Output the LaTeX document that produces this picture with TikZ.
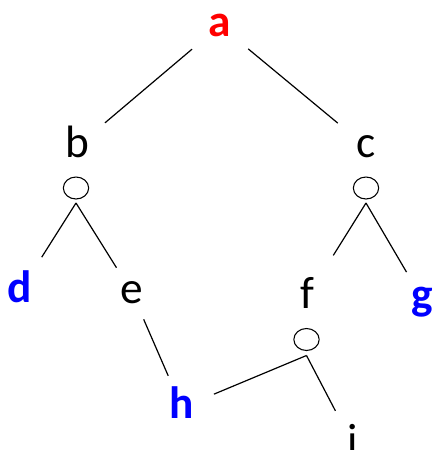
\documentclass[tikz,border=0pt]{standalone}
\usepackage{fontspec}
\setmainfont{Carlito}
\usetikzlibrary{shapes.geometric,positioning}

\begin{document}
\begin{tikzpicture}[x=0.75pt,y=-0.75pt,line width=0.9pt,
	lbl/.style={circle,inner sep=0pt,minimum size=54pt,text height=15.75pt,text depth=0pt,font=\fontsize{34}{40}\selectfont},
	key/.style={lbl,font=\fontsize{34}{40}\selectfont\bfseries},
	knot/.style={ellipse,draw,line width=0.8pt,minimum width=19pt,minimum height=16.5pt,inner sep=0pt,outer sep=3pt}]

	\useasboundingbox (0,0) rectangle (433,450);

	\node[key,text=red] (a) at (220,25.5) {a};

	\node[lbl] (b) at (77,146.5) {b};
	\node[lbl] (c) at (366,146.5) {c};
	\draw (a) edge (b);
	\draw (a) edge (c);

	\node[knot] (ob) at (76,188) {};
	\node[knot] (oc) at (366,188) {};

	\node[key,text=blue,minimum size=60pt] (d) at (20,291.5) {d};
	\node[lbl,minimum size=43pt] (e) at (132,292.5) {e};
	\draw (ob.south) edge (d);
	\draw (ob.south) edge (e);

	\node[lbl,minimum size=73.5pt] (f) at (307,297.5) {f};
	\node[key,text=blue,minimum size=45pt] (g) at (422,298.5) {g};
	\draw (oc.south) edge (f);
	\draw (oc.south) edge (g);

	\node[knot,outer sep=3.75pt] (of) at (306.5,339.5) {};

	\node[key,text=blue,minimum size=51pt] (h) at (182,407.5) {h};
	\node[lbl,minimum size=56pt] (i) at (353,444.5) {i};
	\draw (e) edge (h);
	\draw (of.south) edge (h);
	\draw (of.south) edge (i);

\end{tikzpicture}
\end{document}
